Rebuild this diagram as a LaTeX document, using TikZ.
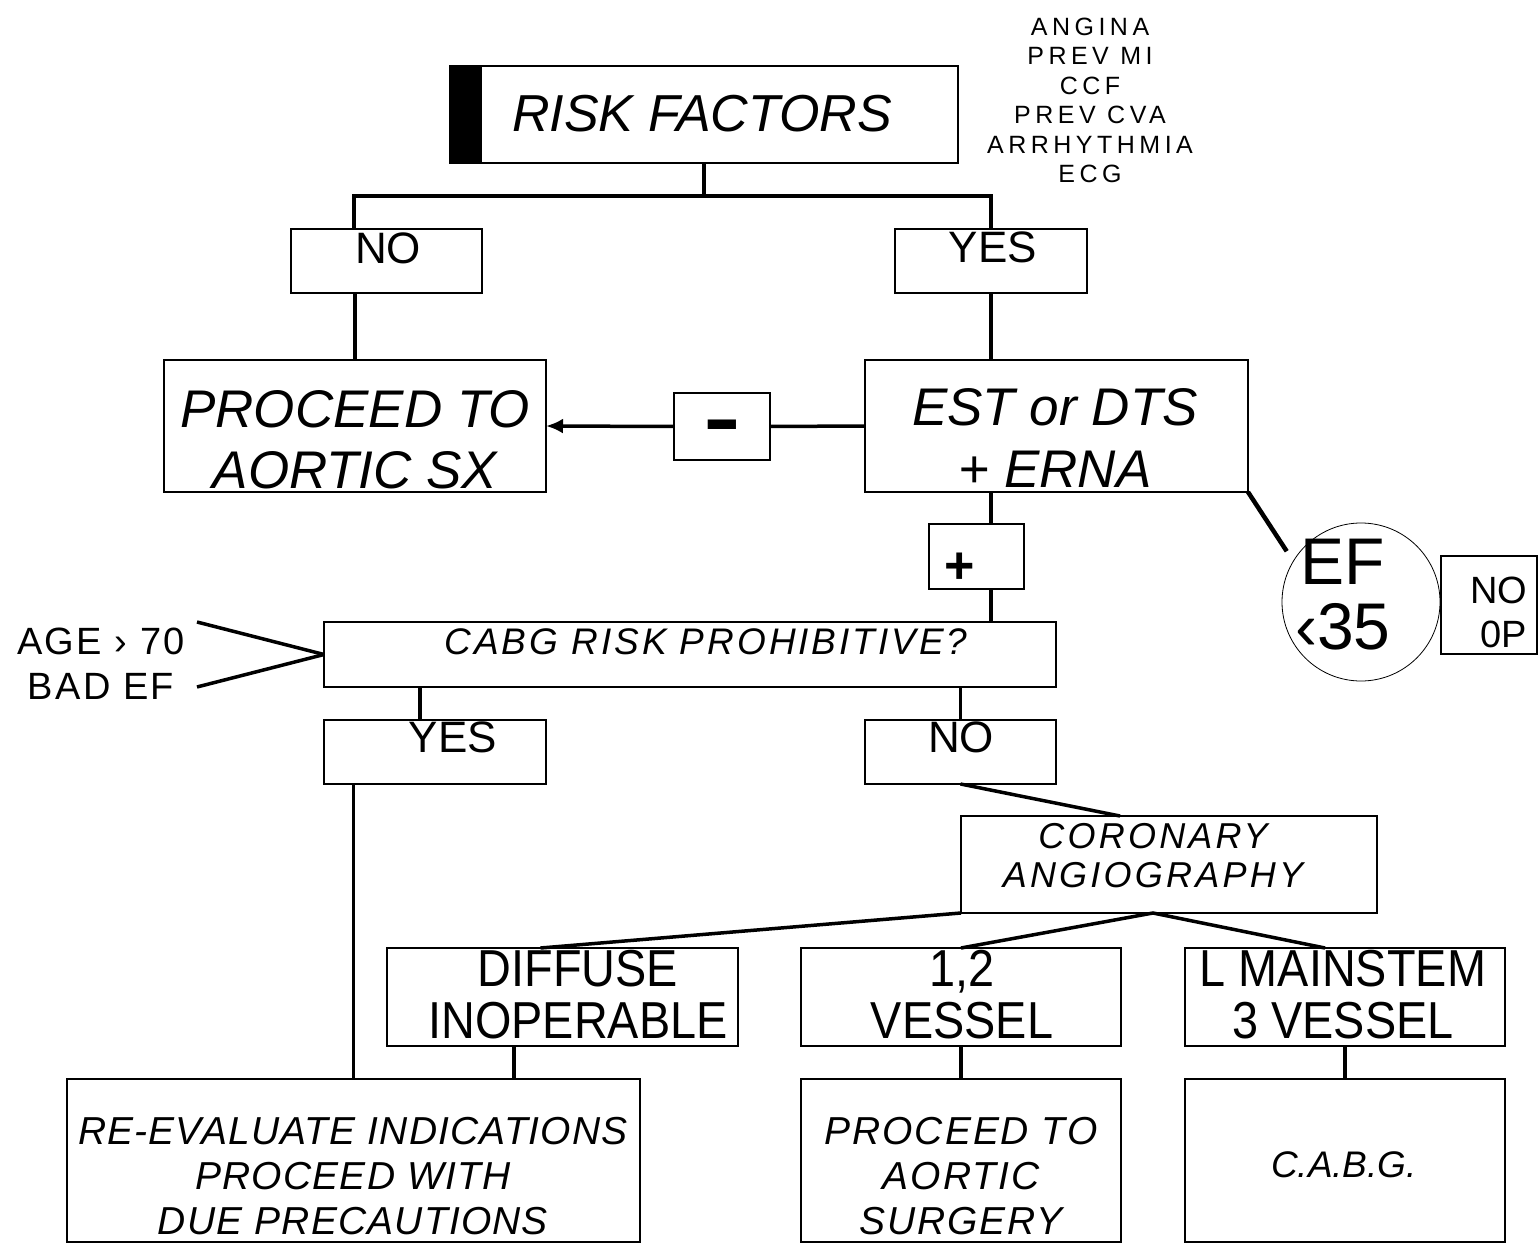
\documentclass[tikz,border=0pt]{standalone}
\usepackage{fontspec}
\setmainfont{Liberation Sans}
\newfontfamily\narrowsans[FakeStretch=0.9]{Liberation Sans}
\usetikzlibrary{arrows.meta}

\newcommand{\fsz}[2]{\fontsize{#1}{#2}\selectfont}

\begin{document}
\begin{tikzpicture}[x=1pt, y=-1pt,
    box/.style = {draw, line width=1.5pt, inner sep=0pt, outer sep=0pt},
    link/.style = {line width=3.5pt},
    txt/.style = {inner sep=0pt, outer sep=0pt, align=center, anchor=north},
    bigit/.style = {txt, font=\fsz{53}{61}\itshape},
    smallit/.style = {txt, font=\fsz{39}{45}\itshape\addfontfeature{LetterSpace=3}},
    answer/.style = {txt, font=\fsz{44}{50}},
    finding/.style = {txt, font=\narrowsans\fsz{52}{52}}]
    \useasboundingbox (0,0) rectangle (1540,1246);

    % boxes
    \node[box, minimum width=508pt, minimum height=97pt] (risk) at (704,114.5) {};
    \fill (risk.north west) rectangle ([xshift=32pt]risk.south west);
    \node[box, minimum width=191pt, minimum height=64pt] (no1) at (386.5,261) {};
    \node[box, minimum width=192pt, minimum height=64pt] (yes1) at (991,261) {};
    \node[box, minimum width=382pt, minimum height=132pt] (proceed) at (355,426) {};
    \node[box, minimum width=383pt, minimum height=132pt] (est) at (1056.5,426) {};
    \node[box, minimum width=96pt, minimum height=67pt] (minus) at (722,426.5) {};
    \node[box, minimum width=95pt, minimum height=65pt] (plus) at (976.5,556.5) {};
    \node[box, minimum width=732pt, minimum height=65pt] (cabg) at (690,654.5) {};
    \node[box, circle, line width=0.8pt, minimum size=158pt] (efcirc) at (1361,602) {};
    \node[box, minimum width=96pt, minimum height=98pt] (noop) at (1489,605) {};
    \node[box, minimum width=222pt, minimum height=64pt] (yes2) at (435,752) {};
    \node[box, minimum width=191pt, minimum height=64pt] (no2) at (960.5,752) {};
    \node[box, minimum width=416pt, minimum height=97pt] (coro) at (1169,864.5) {};
    \node[box, minimum width=351pt, minimum height=98pt] (diffuse) at (562.5,997) {};
    \node[box, minimum width=320pt, minimum height=98pt] (vessel12) at (961,997) {};
    \node[box, minimum width=320pt, minimum height=98pt] (mainstem) at (1345,997) {};
    \node[box, minimum width=573pt, minimum height=163pt] (reeval) at (353.5,1160.5) {};
    \node[box, minimum width=320pt, minimum height=163pt] (proceed2) at (961,1160.5) {};
    \node[box, minimum width=320pt, minimum height=163pt] (cabg2) at (1345,1160.5) {};

    % texts
    \node[txt, font=\fsz{52}{60}\itshape] (risktxt) at (702,95) {RISK FACTORS};
    \node[txt, font=\fsz{25}{29.5}\addfontfeature{LetterSpace=18}] (factors) at (1090,18) {ANGINA\\PREV MI\\CCF\\PREV CVA\\ARRHYTHMIA\\ECG};
    \node[answer] (no1txt) at (388,233) {NO};
    \node[answer] (yes1txt) at (993,232) {YES};
    \node[bigit] (proceedtxt) at (355,390) {PROCEED TO\\AORTIC SX};
    \node[bigit, font=\fsz{53}{62}\itshape] (esttxt) at (1055,388) {EST or DTS\\+ ERNA};
    \node[font=\bfseries\fsz{60}{60}, inner sep=0pt, anchor=base] (minustxt) at (722,451) {\scalebox{0.95}[1.6]{–}};
    \node[font=\bfseries\fsz{52}{52}, inner sep=0pt, anchor=base] (plustxt) at (960,583) {+};
    \node[txt, font=\fsz{37}{40}\itshape\addfontfeature{LetterSpace=8}] (cabgtxt) at (706,629) {CABG RISK PROHIBITIVE?};
    \node[txt, font=\fsz{38}{45}\addfontfeature{LetterSpace=6}] (agetxt) at (101,628) {AGE › 70\\BAD EF};
    \node[txt, font=\fsz{66}{65}] (eftxt) at (1343,539) {EF\\‹35};
    \node[txt, anchor=north east, align=right, font=\fsz{38}{44}] (nooptxt) at (1527,577) {NO\\0P};
    \node[answer] (yes2txt) at (453,722) {YES};
    \node[answer] (no2txt) at (961,722) {NO};
    \node[txt, font=\fsz{36}{39}\itshape\addfontfeature{LetterSpace=9}] (corotxt) at (1153,823) {CORONARY\\ANGIOGRAPHY};
    \node[finding] (diffusetxt) at (578,950) {DIFFUSE\\INOPERABLE};
    \node[finding] (vesseltxt) at (962,950) {1,2\\VESSEL};
    \node[finding] (mainstemtxt) at (1343,950) {L MAINSTEM\\3 VESSEL};
    \node[smallit] (reevaltxt) at (353,1117) {RE-EVALUATE INDICATIONS\\PROCEED WITH\\DUE PRECAUTIONS};
    \node[smallit, font=\fsz{39}{45}\itshape\addfontfeature{LetterSpace=5}] (proceed2txt) at (961,1117) {PROCEED TO\\AORTIC\\SURGERY};
    \node[txt, font=\fsz{37}{40}\itshape] (cabg2txt) at (1344,1152) {C.A.B.G.};

    % connectors
    \coordinate (fork) at (704,196);
    \draw[link] (risk.south) -- (fork);
    \draw[link] ([xshift=-32.5pt]no1.north) |- (fork) -| (yes1.north);
    \draw[link] (no1.south -| proceed.north) -- (proceed.north);
    \draw[link] (yes1.south) -- (yes1.south |- est.north);
    \draw[link] (est.west) -- (minus.east);
    \draw[link, -{Latex[length=17pt,width=15pt]}] (minus.west) -- (proceed.east);
    \draw[link] (yes1.south |- est.south) -- (yes1.south |- plus.north);
    \draw[link] (yes1.south |- plus.south) -- (yes1.south |- cabg.north);
    \draw[link, line width=4.5pt, shorten >=12pt] (est.south east) -- (efcirc.149);
    \coordinate (agetop) at (197,622);
    \coordinate (agebot) at (197,687);
    \draw[link] (agetop) -- (cabg.west);
    \draw[link] (agebot) -- (cabg.west);
    \draw[link] ([xshift=-15pt]yes2.north |- cabg.south) -- ([xshift=-15pt]yes2.north);
    \draw[link] (no2.north |- cabg.south) -- (no2.north);
    \draw[link] (reeval.north |- yes2.south) -- (reeval.north);
    \draw[link] (no2.south) -- ([xshift=-49pt]coro.north);
    \coordinate (split) at ([xshift=-16pt]coro.south);
    \draw[link] (coro.south west) -- ([xshift=-22pt]diffuse.north);
    \draw[link] (vessel12.north) -- (split) -- ([xshift=-20pt]mainstem.north);
    \draw[link] ([xshift=-48.5pt]diffuse.south) -- ([xshift=-48.5pt]diffuse.south |- reeval.north);
    \draw[link] (vessel12.south) -- (proceed2.north);
    \draw[link] (mainstem.south) -- (cabg2.north);
\end{tikzpicture}
\end{document}
